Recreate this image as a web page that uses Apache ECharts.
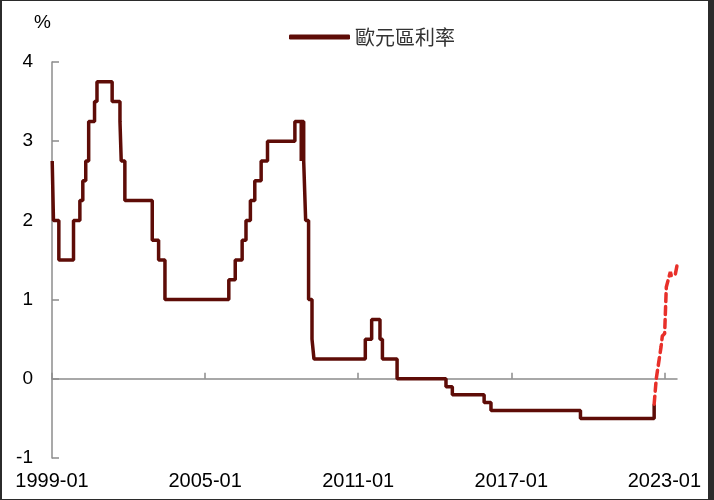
<!DOCTYPE html>
<html>
<head>
<meta charset="utf-8">
<script src="https://cdn.jsdelivr.net/npm/echarts@6/dist/echarts.min.js"></script>
<style>
  html, body { margin: 0; padding: 0; background: #2b2b2b; width: 714px; height: 500px; overflow: hidden; }
  #chart { position: absolute; left: 2px; top: 1px; width: 706px; height: 498px; background: #ffffff; }
</style>
</head>
<body>
<div id="chart"></div>
<script>
// Euro area policy (deposit facility) rate: change dates and new levels
const rateDates = [
  '1999-01-04','1999-01-22','1999-04-09','1999-11-05','2000-02-04','2000-03-17','2000-04-28',
  '2000-06-09','2000-09-01','2000-10-06','2001-05-11','2001-08-31','2001-09-18','2001-11-09',
  '2002-12-06','2003-03-07','2003-06-06','2005-12-06','2006-03-08','2006-06-15','2006-08-09',
  '2006-10-11','2006-12-13','2007-03-14','2007-06-13','2008-07-09','2008-10-08','2008-10-09',
  '2008-11-12','2008-12-10','2009-01-21','2009-03-11','2009-04-08','2011-04-13','2011-07-13',
  '2011-11-09','2011-12-14','2012-07-11','2014-06-11','2014-09-10','2015-12-09','2016-03-16',
  '2019-09-18','2022-08-08'
];
const rateValues = [
  2.75, 2.00, 1.50, 2.00, 2.25, 2.50, 2.75,
  3.25, 3.50, 3.75, 3.50, 3.25, 2.75, 2.25,
  1.75, 1.50, 1.00, 1.25, 1.50, 1.75, 2.00,
  2.25, 2.50, 2.75, 3.00, 3.25, 2.75, 3.25,
  2.75, 2.00, 1.00, 0.50, 0.25, 0.50, 0.75,
  0.50, 0.25, 0.00, -0.10, -0.20, -0.30, -0.40,
  -0.50, -0.32
];
// Expected path (red dashed)
const expDates = ['2022-08-08','2022-09-07','2022-11-14','2022-12-03','2023-01-05','2023-01-29','2023-03-28','2023-04-11','2023-06-07','2023-07-01'];
const expValues = [-0.32, 0.00, 0.40, 0.54, 0.57, 1.16, 1.35, 1.30, 1.32, 1.43];

const xTickLabels = ['1999-01','2005-01','2011-01','2017-01','2023-01'];
const yTicks = [-1, 0, 1, 2, 3, 4];
const seriesName = '歐元區利率';

function toTs(s) { const p = s.split('-').map(Number); return Date.UTC(p[0], p[1] - 1, p[2] || 1); }
const xTickValues = xTickLabels.map(toTs);

const chart = echarts.init(document.getElementById('chart'));
chart.setOption({
  animation: false,
  backgroundColor: '#ffffff',
  textStyle: { fontFamily: 'Liberation Sans, Arial, sans-serif' },
  grid: { left: 50, right: 31, top: 61, bottom: 41, containLabel: false, outerBoundsMode: 'none' },
  legend: {
    data: [seriesName],
    left: 282, top: 21,
    icon: 'roundRect', itemWidth: 61, itemHeight: 5, itemGap: 10,
    textStyle: { fontSize: 20, color: '#333333', fontFamily: 'Noto Sans CJK TC, sans-serif' }
  },
  xAxis: {
    type: 'value',
    min: toTs('1999-01-01'),
    max: toTs('2023-07-01'),
    axisLine: { onZero: true, lineStyle: { color: '#8c8c8c', width: 1.5 } },
    axisTick: { show: true, inside: true, length: 6, customValues: xTickValues, lineStyle: { color: '#8c8c8c', width: 1.5 } },
    axisLabel: {
      customValues: xTickValues,
      margin: 13, fontSize: 20, color: '#000000',
      formatter: function (v) { const d = new Date(v); return d.getUTCFullYear() + '-' + String(d.getUTCMonth() + 1).padStart(2, '0'); }
    },
    splitLine: { show: false }
  },
  yAxis: {
    type: 'value',
    min: yTicks[0], max: yTicks[yTicks.length - 1], interval: 1,
    name: '%', nameLocation: 'end', nameGap: 30,
    nameTextStyle: { fontSize: 19, color: '#000000', align: 'right', padding: [0, 1, 0, 0] },
    axisLine: { show: true, lineStyle: { color: '#8c8c8c', width: 1.5 } },
    axisTick: { show: true, inside: true, length: 7, lineStyle: { color: '#8c8c8c', width: 1.5 } },
    axisLabel: { fontSize: 19, color: '#000000', margin: 19 },
    splitLine: { show: false }
  },
  series: [
    {
      name: seriesName, type: 'line', step: 'end', showSymbol: false, symbol: 'none',
      data: rateDates.map((d, i) => [toTs(d), rateValues[i]]),
      lineStyle: { color: '#5e0c07', width: 3.5 },
      itemStyle: { color: '#5e0c07' }, z: 3
    },
    {
      name: 'expected', type: 'line', showSymbol: false, symbol: 'none',
      data: expDates.map((d, i) => [toTs(d), expValues[i]]),
      lineStyle: { color: '#e8302a', width: 3.5, type: [8, 5], cap: 'round' },
      itemStyle: { color: '#e8302a' }, z: 4
    }
  ]
});
</script>
</body>
</html>
